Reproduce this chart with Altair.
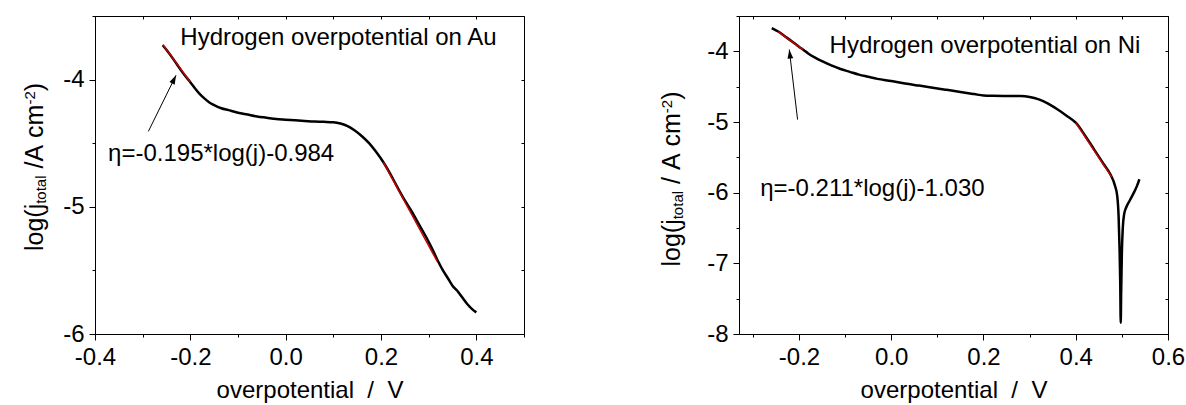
import altair as alt
import pandas as pd

FONT = "Liberation Sans"
FS = 24          # tick labels, axis titles, annotations
TITLE_FS = 25    # rotated y titles
SMALL_FS = 15    # sub/superscripts in the y titles
NB = "\u00a0"    # non-breaking space

# ---------------- Au electrode ----------------
au_eta = [-0.258, -0.245, -0.23, -0.215, -0.20, -0.19, -0.18, -0.17, -0.16, -0.15,
          -0.135, -0.12, -0.10, -0.08, -0.06, -0.04, -0.02, 0.0, 0.02, 0.04,
          0.06, 0.08, 0.10, 0.115, 0.13, 0.145, 0.16, 0.175, 0.19, 0.205,
          0.22, 0.235, 0.25, 0.265, 0.28, 0.295, 0.31, 0.32, 0.33, 0.34,
          0.35, 0.36, 0.37, 0.38, 0.39, 0.40]
au_logj = [-3.73, -3.79, -3.87, -3.95, -4.02, -4.07, -4.115, -4.15, -4.18, -4.20,
           -4.225, -4.24, -4.26, -4.275, -4.29, -4.30, -4.31, -4.315, -4.32, -4.325,
           -4.33, -4.332, -4.335, -4.345, -4.365, -4.40, -4.445, -4.50, -4.57, -4.65,
           -4.745, -4.85, -4.95, -5.04, -5.14, -5.24, -5.35, -5.43, -5.50, -5.56,
           -5.62, -5.66, -5.71, -5.76, -5.80, -5.83]
# cathodic Tafel fit: eta = slope*log(j) + intercept
au_slope, au_icpt = -0.195, -0.984
au_fit_logj = [-3.725, -4.02]
# anodic linear segment
au_fit2_eta = [0.205, 0.318]
au_fit2_logj = [-4.65, -5.43]

# ---------------- Ni electrode ----------------
ni_eta = [-0.259, -0.245, -0.23, -0.215, -0.20, -0.19, -0.18, -0.165, -0.15, -0.13,
          -0.11, -0.09, -0.07, -0.05, -0.03, 0.0, 0.03, 0.06, 0.09, 0.12,
          0.15, 0.18, 0.20, 0.22, 0.25, 0.28, 0.30, 0.32, 0.34, 0.36,
          0.38, 0.40, 0.42, 0.44, 0.46, 0.475, 0.485, 0.49, 0.493, 0.495,
          0.4965, 0.4975, 0.4985, 0.50, 0.502, 0.505, 0.51, 0.518, 0.526, 0.533,
          0.538]
ni_logj = [-3.67, -3.72, -3.79, -3.86, -3.935, -3.98, -4.03, -4.09, -4.14, -4.20,
           -4.25, -4.29, -4.33, -4.36, -4.39, -4.42, -4.455, -4.485, -4.515, -4.545,
           -4.575, -4.605, -4.625, -4.63, -4.632, -4.633, -4.645, -4.68, -4.74, -4.82,
           -4.91, -5.01, -5.19, -5.39, -5.59, -5.74, -5.90, -6.05, -6.35, -6.8,
           -7.3, -7.84, -7.4, -6.85, -6.5, -6.3, -6.2, -6.1, -6.0, -5.9,
           -5.81]
ni_slope, ni_icpt = -0.211, -1.030
ni_fit_logj = [-3.72, -3.975]
ni_fit2_eta = [0.40, 0.478]
ni_fit2_logj = [-5.01, -5.78]

# axis ticks
au_x_major = [-0.4, -0.2, 0.0, 0.2, 0.4]
au_x_minor = [-0.4, -0.3, -0.2, -0.1, 0.0, 0.1, 0.2, 0.3, 0.4, 0.5]
au_y_major = [-6, -5, -4]
au_y_minor = [-6, -5.5, -5, -4.5, -4, -3.5]
ni_x_major = [-0.2, 0.0, 0.2, 0.4, 0.6]
ni_x_minor = [-0.3, -0.2, -0.1, 0.0, 0.1, 0.2, 0.3, 0.4, 0.5, 0.6]
ni_y_major = [-8, -7, -6, -5, -4]
ni_y_minor = [-8, -7.5, -7, -6.5, -6, -5.5, -5, -4.5, -4, -3.5]

W, H = 429, 318

# Arial advance widths (per 1000 em) for the characters of the y titles
ADV = {"l": 222, "o": 556, "g": 556, "(": 333, "j": 222, "t": 278, "a": 556,
       NB: 278, "/": 278, "A": 667, "c": 500, "m": 833, "-": 333, "2": 556, ")": 333}


def text_len(s, size):
    return sum(ADV[ch] for ch in s) * size / 1000.0


def y_title(parts, base_x, center_y):
    """Rotated title built from main / subscript / superscript pieces."""
    sizes = {"main": TITLE_FS, "sub": SMALL_FS, "sup": SMALL_FS}
    shift = {"main": 0, "sub": 3, "sup": -8}
    total = sum(text_len(t, sizes[k]) for t, k in parts)
    y = center_y + total / 2.0
    layers = []
    for t, k in parts:
        body = t.lstrip(NB)
        # leading spaces become an explicit gap
        y -= text_len(t[:len(t) - len(body)], sizes[k])
        layers.append(
            alt.Chart(pd.DataFrame({"t": [body]}))
            .mark_text(angle=270, align="left", baseline="alphabetic",
                       font=FONT, fontSize=sizes[k], color="black")
            .encode(x=alt.value(base_x + shift[k]), y=alt.value(y), text="t:N")
        )
        y -= text_len(body, sizes[k])
    return layers


X_LABEL = "replace(format(datum.value, '.1f'), '\u2212', '-')"
Y_LABEL = "replace(format(datum.value, 'd'), '\u2212', '-')"


def panel(eta, logj, slope, icpt, fit_logj, fit2_eta, fit2_logj,
          x_dom, y_dom, x_major, x_minor, y_major, y_minor,
          arrow, head_angle, notes, title_parts, title_x, title_cy):
    xs = alt.Scale(domain=x_dom, nice=False, zero=False)
    ys = alt.Scale(domain=y_dom, nice=False, zero=False)

    curve = pd.DataFrame({"eta": eta, "logj": logj, "i": list(range(len(eta)))})
    base = alt.Chart(curve)

    main = base.mark_line(color="black", strokeWidth=2.5, interpolate="monotone").encode(
        x=alt.X("eta:Q", scale=xs, axis=alt.Axis(
            orient="bottom", values=x_major, tickSize=6, labelPadding=5,
            labelExpr=X_LABEL, title=f"overpotential{NB}{NB}/{NB}{NB}V", titlePadding=9)),
        y=alt.Y("logj:Q", scale=ys, axis=alt.Axis(
            orient="left", values=y_major, tickSize=6, labelPadding=5,
            labelExpr=Y_LABEL, title=None)),
        order="i:Q",
    )
    minor = base.mark_point(opacity=0).encode(
        x=alt.X("eta:Q", scale=xs, axis=alt.Axis(
            orient="bottom", values=x_minor, tickSize=3, labels=False,
            domain=False, title=None)),
        y=alt.Y("logj:Q", scale=ys, axis=alt.Axis(
            orient="left", values=y_minor, tickSize=3, labels=False,
            domain=False, title=None)),
    )
    frame = base.mark_point(opacity=0).encode(
        x=alt.X("eta:Q", scale=xs, axis=alt.Axis(
            orient="top", values=x_minor, tickSize=3, offset=-3, labels=False,
            domain=False, title=None)),
        y=alt.Y("logj:Q", scale=ys, axis=alt.Axis(
            orient="right", values=y_minor, tickSize=3, offset=-3, labels=False,
            domain=False, title=None)),
    )

    # red fit lines: the Tafel line from its stated equation, plus the anodic segment
    fit1 = pd.DataFrame({"logj": fit_logj,
                         "eta": [slope * v + icpt for v in fit_logj]})
    fit2 = pd.DataFrame({"eta": fit2_eta, "logj": fit2_logj})
    fits = [
        alt.Chart(d).mark_line(color="#cc0000", strokeWidth=1.5).encode(
            x=alt.X("eta:Q", scale=xs, axis=None),
            y=alt.Y("logj:Q", scale=ys, axis=None))
        for d in (fit1, fit2)
    ]

    arr = pd.DataFrame({"x": [arrow[0]], "y": [arrow[1]],
                        "x2": [arrow[2]], "y2": [arrow[3]]})
    rule = alt.Chart(arr).mark_rule(color="black", strokeWidth=1).encode(
        x=alt.X("x:Q", scale=xs, axis=None), y=alt.Y("y:Q", scale=ys, axis=None),
        x2="x2:Q", y2="y2:Q")
    head = alt.Chart(arr).mark_point(
        shape="M0,0L0.32,1L-0.32,1Z", filled=True, color="black", opacity=1,
        size=324, angle=head_angle, strokeWidth=0).encode(
        x=alt.X("x2:Q", scale=xs, axis=None), y=alt.Y("y2:Q", scale=ys, axis=None))

    note_df = pd.DataFrame({"x": [n[0] for n in notes], "y": [n[1] for n in notes],
                            "t": [n[2] for n in notes]})
    text = alt.Chart(note_df).mark_text(
        align="left", baseline="alphabetic", font=FONT, fontSize=FS, color="black"
    ).encode(x=alt.X("x:Q", scale=xs, axis=None), y=alt.Y("y:Q", scale=ys, axis=None),
             text="t:N")

    layers = [main, *fits, rule, head, text, minor, frame,
              *y_title(title_parts, title_x, title_cy)]
    return alt.layer(*layers).resolve_axis(x="independent", y="independent").properties(
        width=W, height=H)


left = panel(
    au_eta, au_logj, au_slope, au_icpt, au_fit_logj, au_fit2_eta, au_fit2_logj,
    [-0.4, 0.5], [-6, -3.5], au_x_major, au_x_minor, au_y_major, au_y_minor,
    arrow=(-0.288, -4.407, -0.230, -3.966), head_angle=26,
    notes=[(-0.221, -3.725, "Hydrogen overpotential on Au"),
           (-0.3726, -4.642, "\u03b7=-0.195*log(j)-0.984")],
    title_parts=[("log(j", "main"), ("total", "sub"), (f"{NB}/A{NB}cm", "main"),
                 ("-2", "sup"), (")", "main")],
    title_x=-52, title_cy=151,
)

right = panel(
    ni_eta, ni_logj, ni_slope, ni_icpt, ni_fit_logj, ni_fit2_eta, ni_fit2_logj,
    [-0.33, 0.6], [-8, -3.5], ni_x_major, ni_x_minor, ni_y_major, ni_y_minor,
    arrow=(-0.203, -4.966, -0.221, -3.975), head_angle=353,
    notes=[(-0.1337, -4.024, "Hydrogen overpotential on Ni"),
           (-0.284, -6.051, "\u03b7=-0.211*log(j)-1.030")],
    title_parts=[("log(j", "main"), ("total", "sub"), (f"{NB}/{NB}A{NB}cm", "main"),
                 ("-2", "sup"), (")", "main")],
    title_x=-59, title_cy=163,
)

chart = (
    alt.hconcat(left, right, spacing=215, bounds="flush")
    .configure(padding={"left": 22, "top": 15, "right": 0, "bottom": 0},
               background="white")
    .configure_view(stroke="black", strokeWidth=1)
    .configure_axis(
        labelFont=FONT, labelFontSize=FS, labelColor="black",
        titleFont=FONT, titleFontSize=FS, titleFontWeight="normal", titleColor="black",
        tickColor="black", tickWidth=1, domainColor="black", domainWidth=1,
        grid=False, labelFlush=False, labelOverlap=False,
    )
)

chart.save("out.html", embed_options={"renderer": "svg", "actions": False})
